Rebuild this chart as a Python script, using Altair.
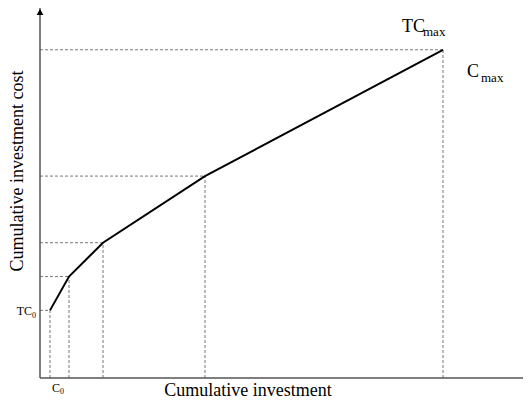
import altair as alt
import pandas as pd

# Data (arbitrary units)
investment = [10, 29, 63, 165, 403]
cost = [68, 102, 136, 203, 330]
x_max = 483
y_max = 372

W, H = 483, 370
FONT = "Liberation Serif"

df = pd.DataFrame({"x": investment, "y": cost, "zero": [0] * len(investment)})

xsc = alt.Scale(domain=[0, x_max], nice=False, zero=True)
ysc = alt.Scale(domain=[0, y_max], nice=False, zero=True)
X = lambda f: alt.X(f, type="quantitative", scale=xsc, axis=None)
Y = lambda f: alt.Y(f, type="quantitative", scale=ysc, axis=None)

base = alt.Chart(df)

hdash = base.mark_rule(color="#777777", strokeDash=[3, 2], strokeWidth=1).encode(
    x=X("zero"), x2="x", y=Y("y"))
vdash = base.mark_rule(color="#777777", strokeDash=[3, 2], strokeWidth=1).encode(
    x=X("x"), y=Y("zero"), y2="y")
line = base.mark_line(color="black", strokeWidth=2).encode(x=X("x"), y=Y("y"))

axes_df = pd.DataFrame({"x0": [0, 0], "y0": [0, 0], "x1": [0, x_max], "y1": [y_max, 0]})
axes = alt.Chart(axes_df).mark_rule(color="#555555", strokeWidth=1.5).encode(
    x=X("x0"), y=Y("y0"), x2="x1", y2="y1")
arrow = alt.Chart(pd.DataFrame({"x": [0], "y": [y_max]})).mark_point(
    shape="triangle-up", filled=True, color="black", size=45, opacity=1, yOffset=4
).encode(x=X("x"), y=Y("y"))

first = pd.DataFrame({"x": [investment[0]], "y": [cost[0]], "zero": [0]})
last = pd.DataFrame({"x": [investment[-1]], "y": [cost[-1]]})


def txt(data, xf, yf, s, size, dx, dy, align="left"):
    return alt.Chart(data).mark_text(
        text=s, font=FONT, fontSize=size, align=align, baseline="alphabetic",
        dx=dx, dy=dy, color="black"
    ).encode(x=X(xf), y=Y(yf))


labels = [
    txt(first, "zero", "y", "TC", 12, -8, 5, "right"),
    txt(first, "zero", "y", "0", 8, -8, 8, "left"),
    txt(first, "x", "zero", "C", 12, 2, 14, "left"),
    txt(first, "x", "zero", "0", 8, 10, 16, "left"),
    txt(last, "x", "y", "TC", 18, -41, -18, "left"),
    txt(last, "x", "y", "max", 13, -20, -14, "left"),
    txt(last, "x", "y", "C", 18, 24, 27, "left"),
    txt(last, "x", "y", "max", 13, 38, 32, "left"),
]

ytitle = alt.Chart(pd.DataFrame({"a": [0]})).mark_text(
    text="Cumulative investment cost", font=FONT, fontSize=18, angle=270,
    align="center", baseline="middle", color="black"
).encode(x=alt.value(-22), y=alt.value(163))
xtitle = alt.Chart(pd.DataFrame({"a": [0]})).mark_text(
    text="Cumulative investment", font=FONT, fontSize=18,
    align="center", baseline="alphabetic", color="black"
).encode(x=alt.value(208), y=alt.value(388))

chart = alt.layer(hdash, vdash, axes, arrow, line, *labels, ytitle, xtitle).properties(
    width=W, height=H,
    autosize=alt.AutoSizeParams(type="none"),
    padding={"left": 32, "top": 0, "right": 0, "bottom": 24},
).configure_view(stroke=None)

chart.save("out.html", embed_options={"renderer": "svg", "actions": False})
